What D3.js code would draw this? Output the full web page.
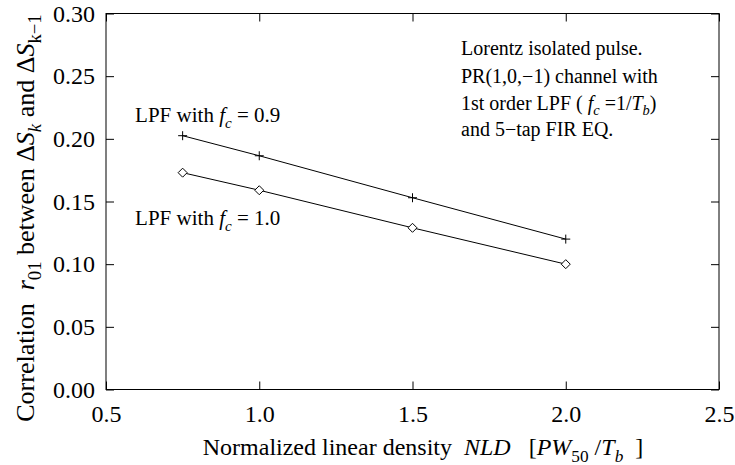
<!DOCTYPE html>
<html><head><meta charset="utf-8">
<script src="https://cdn.jsdelivr.net/npm/d3@7"></script>
<style>
html,body{margin:0;padding:0;background:#fff;}
svg{display:block;}
text{font-family:"Liberation Serif","Times New Roman",serif;fill:#000;white-space:pre;}
</style></head>
<body><svg id="chart" width="735" height="465"></svg>
<script>
const nld = [0.75, 1.0, 1.5, 2.0];
const lpf09 = [0.2025, 0.1865, 0.153, 0.120];
const lpf10 = [0.173, 0.159, 0.129, 0.100];
const xTicks = [0.5, 1.0, 1.5, 2.0, 2.5];
const yTicks = [0.00, 0.05, 0.10, 0.15, 0.20, 0.25, 0.30];

const W = 735, H = 465;
const m = {left:106, right:16, top:13.5, bottom:75.5};
const svg = d3.select("#chart");
const x = d3.scaleLinear().domain([0.5, 2.5]).range([m.left, W - m.right]);
const y = d3.scaleLinear().domain([0, 0.30]).range([H - m.bottom, m.top]);

const axStyle = g => { g.selectAll("path,line").attr("stroke","#000").attr("stroke-width",1); g.select(".domain").remove(); };

svg.append("g").attr("transform",`translate(0,${y(0)})`)
  .call(d3.axisBottom(x).tickValues(xTicks).tickFormat(d3.format(".1f")).tickSizeInner(-8).tickSizeOuter(0).tickPadding(15.5))
  .call(axStyle).call(g=>g.selectAll("text").attr("font-size",24).attr("font-family","Liberation Serif"));
svg.append("g").attr("transform",`translate(0,${y(0.30)})`)
  .call(d3.axisTop(x).tickValues(xTicks).tickFormat("").tickSizeInner(-8).tickSizeOuter(0))
  .call(axStyle);
svg.append("g").attr("transform",`translate(${x(0.5)},0)`)
  .call(d3.axisLeft(y).tickValues(yTicks).tickFormat(d3.format(".2f")).tickSizeInner(-8).tickSizeOuter(0).tickPadding(11))
  .call(axStyle).call(g=>g.selectAll("text").attr("font-size",24).attr("font-family","Liberation Serif"));
svg.append("g").attr("transform",`translate(${x(2.5)},0)`)
  .call(d3.axisRight(y).tickValues(yTicks).tickFormat("").tickSizeInner(-8).tickSizeOuter(0))
  .call(axStyle);

// frame
svg.append("rect").attr("x",x(0.5)).attr("y",y(0.30)).attr("width",x(2.5)-x(0.5)).attr("height",y(0)-y(0.30))
  .attr("fill","none").attr("stroke","#000").attr("stroke-width",1);

const line = d3.line().x(d=>x(d[0])).y(d=>y(d[1]));
const s1 = nld.map((v,i)=>[v,lpf09[i]]);
const s2 = nld.map((v,i)=>[v,lpf10[i]]);
svg.append("path").attr("d",line(s1)).attr("fill","none").attr("stroke","#000").attr("stroke-width",1);
svg.append("path").attr("d",line(s2)).attr("fill","none").attr("stroke","#000").attr("stroke-width",1);

svg.append("g").selectAll("path").data(s1).join("path")
  .attr("d",d=>{const px=x(d[0]),py=y(d[1]);return `M${px-4.5},${py}H${px+4.5}M${px},${py-4.5}V${py+4.5}`;})
  .attr("stroke","#000").attr("stroke-width",1).attr("fill","none");
svg.append("g").selectAll("path").data(s2).join("path")
  .attr("d",d=>{const px=x(d[0]),py=y(d[1]);return `M${px-4.5},${py}L${px},${py-4.5}L${px+4.5},${py}L${px},${py+4.5}Z`;})
  .attr("stroke","#000").attr("stroke-width",1).attr("fill","#fff");

// helper for rich text
function rich(t, parts, fs){
  parts.forEach(p=>{
    const ts = t.append("tspan").text(p.t);
    if(p.i) ts.attr("font-style","italic");
    if(p.sub){ ts.attr("font-size",fs*0.72).attr("dy",fs*0.28); }
    if(p.back){ ts.attr("dy",-fs*0.28); }
  });
}

// legend labels
const lab1 = svg.append("text").attr("x",x(0.595)).attr("y",122).attr("font-size",21);
rich(lab1,[{t:"LPF with "},{t:"f",i:1},{t:"c",i:1,sub:1},{t:" = 0.9",back:1}],21);
const lab2 = svg.append("text").attr("x",x(0.595)).attr("y",225).attr("font-size",21);
rich(lab2,[{t:"LPF with "},{t:"f",i:1},{t:"c",i:1,sub:1},{t:" = 1.0",back:1}],21);

// annotation
const ax0 = 461, fsA = 20;
svg.append("text").attr("x",ax0).attr("y",55).attr("font-size",fsA).text("Lorentz isolated pulse.");
svg.append("text").attr("x",ax0).attr("y",83).attr("font-size",fsA).text("PR(1,0,\u22121) channel with");
const a3 = svg.append("text").attr("x",ax0).attr("y",109.5).attr("font-size",fsA);
rich(a3,[{t:"1st order LPF ( "},{t:"f",i:1},{t:"c",i:1,sub:1},{t:" =1/",back:1},{t:"T",i:1},{t:"b",i:1,sub:1},{t:")",back:1}],fsA);
svg.append("text").attr("x",ax0).attr("y",136).attr("font-size",fsA).text("and 5\u2212tap FIR EQ.");

// x label
const xl = svg.append("text").attr("x",423).attr("y",455).attr("text-anchor","middle").attr("font-size",24);
rich(xl,[{t:"Normalized linear density  "},{t:"NLD",i:1},{t:"   ["},{t:"PW",i:1},{t:"50",sub:1},{t:" /",back:1},{t:"T",i:1},{t:"b",i:1,sub:1},{t:"  ]",back:1}],24);

// y label
const yl = svg.append("text").attr("transform","translate(34,218) rotate(-90)").attr("text-anchor","middle").attr("font-size",26);
rich(yl,[{t:"Correlation  "},{t:"r",i:1},{t:"01",sub:1},{t:" between \u0394",back:1},{t:"S",i:1},{t:"k",i:1,sub:1},{t:" and \u0394",back:1},{t:"S",i:1},{t:"k\u22121",sub:1}],26);
</script></body></html>
